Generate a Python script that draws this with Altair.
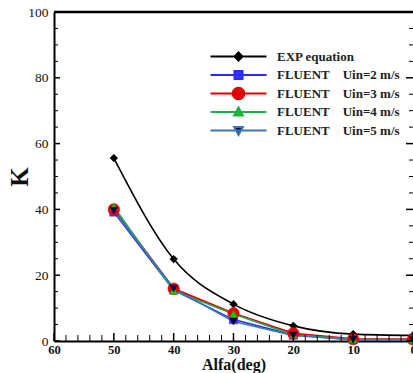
import altair as alt
import pandas as pd

# ---- data ----
alfa = [50, 40, 30, 20, 10, 0]
k_exp = [55.6, 24.9, 11.2, 4.6, 2.1, 1.7]
k_u2 = [39.2, 15.5, 6.5, 1.8, 0.4, 0.4]
k_u3 = [40.0, 15.9, 8.4, 2.3, 0.6, 0.5]
k_u4 = [40.8, 15.3, 8.2, 1.9, 0.5, 0.4]
k_u5 = [39.6, 16.0, 5.9, 1.7, 0.4, 0.3]

NB = "\u00a0"
series_names = [
    "EXP equation",
    f"FLUENT{NB*4}Uin=2 m/s",
    f"FLUENT{NB*4}Uin=3 m/s",
    f"FLUENT{NB*4}Uin=4 m/s",
    f"FLUENT{NB*4}Uin=5 m/s",
]
series_values = [k_exp, k_u2, k_u3, k_u4, k_u5]
line_colors = ["#000000", "#2a2aff", "#e00000", "#1fae4a", "#3b78b5"]
marker_fills = ["#000000", "#3535ff", "#e80000", "#00cc00", "#00004d"]
marker_shapes = ["diamond", "square", "circle", "triangle-up", "triangle-down"]
marker_sizes = [60, 70, 135, 60, 60]
interp = ["monotone", "linear", "linear", "linear", "linear"]

PAD = "M0,-1.5M0,1.5"
legend_paths = [
    PAD + "M-7,0H7M0,-1L1,0L0,1L-1,0Z",
    PAD + "M-7,0H7M-1,-1H1V1H-1Z",
    PAD + "M-7,0H7M-1.45,0A1.45,1.45,0,1,1,1.45,0A1.45,1.45,0,1,1,-1.45,0Z",
    PAD + "M-7,0H7M0,-1.1L1.1,0.9L-1.1,0.9Z",
    PAD + "M-7,0H7M0,1.1L1.1,-0.9L-1.1,-0.9Z",
]

x_major = [60, 50, 40, 30, 20, 10, 0]
x_minor = [v for v in range(0, 61, 2) if v % 10 != 0]
y_major = [0, 20, 40, 60, 80, 100]
y_minor = [v for v in range(0, 101, 5) if v % 20 != 0]

W, H = 359, 329
FONT = "Liberation Serif"

rows = []
for name, vals in zip(series_names, series_values):
    for a, k in zip(alfa, vals):
        rows.append({"series": name, "alfa": a, "k": k})
df = pd.DataFrame(rows)

xscale = alt.Scale(domain=[0, 60], reverse=True, nice=False, zero=False)
yscale = alt.Scale(domain=[0, 100], nice=False)

x_axis = alt.Axis(
    values=x_major, title="Alfa(deg)", ticks=False, tickSize=0, grid=False,
    labelFont=FONT, labelFontSize=12.5, labelFontWeight="bold", labelColor="#111",
    labelPadding=2, labelFlush=False, labelOverlap=False, format="d",
    domainColor="#000", domainWidth=2,
    titleFont=FONT, titleFontSize=16, titleFontWeight="bold", titleColor="#111",
    titleY=28, titleBaseline="alphabetic",
)
y_axis = alt.Axis(
    values=y_major, title="K", ticks=False, tickSize=0, grid=False,
    labelFont=FONT, labelFontSize=13.5, labelFontWeight="normal", labelColor="#111",
    labelPadding=6, labelFlush=False, labelOverlap=False, format="d",
    domainColor="#000", domainWidth=2,
    titleFont=FONT, titleFontSize=25, titleFontWeight="bold", titleColor="#111",
    titleX=-35, titleBaseline="middle", titleAlign="center",
)

layers = []
base = alt.Chart(df)
for i, name in enumerate(series_names):
    sub = base.transform_filter(alt.datum.series == name)
    line = sub.mark_line(
        color=line_colors[i], strokeWidth=1.6 if i != 2 else 2, interpolate=interp[i]
    ).encode(
        x=alt.X("alfa:Q", scale=xscale, axis=x_axis),
        y=alt.Y("k:Q", scale=yscale, axis=y_axis),
    )
    layers.append(line)
for i, name in enumerate(series_names):
    sub = base.transform_filter(alt.datum.series == name)
    pts = sub.mark_point(
        filled=True, shape=marker_shapes[i], size=marker_sizes[i],
        fill=marker_fills[i], stroke=marker_fills[i], strokeWidth=0.5, opacity=1,
    ).encode(
        x=alt.X("alfa:Q", scale=xscale, axis=x_axis),
        y=alt.Y("k:Q", scale=yscale, axis=y_axis),
    )
    layers.append(pts)

# tick marks (inward)
def xticks(vals, length, sw):
    return alt.Chart(pd.DataFrame({"alfa": vals})).mark_rule(color="#000", strokeWidth=sw).encode(
        x=alt.X("alfa:Q", scale=xscale, axis=x_axis), y=alt.value(H), y2=alt.value(H - length)
    )

def yticks(vals, x0, x1, sw):
    return alt.Chart(pd.DataFrame({"k": vals})).mark_rule(color="#000", strokeWidth=sw).encode(
        y=alt.Y("k:Q", scale=yscale, axis=y_axis), x=alt.value(x0), x2=alt.value(x1)
    )

layers += [
    xticks(x_major, 8, 1.5),
    xticks(x_minor, 6, 1),
    yticks(y_major, 0, 6, 1.5),
    yticks(y_minor, 0, 4, 1),
    yticks(y_major, W, W - 7, 1.5),
    yticks(y_minor, W, W - 4, 1),
]

top_border = alt.Chart(pd.DataFrame({"v": [0]})).mark_rule(color="#000", strokeWidth=2.5).encode(
    x=alt.value(0), x2=alt.value(W), y=alt.value(0)
)
layers.append(top_border)

leg = alt.Legend(
    orient="none", legendX=178, legendY=38, title=None,
    labelFont=FONT, labelFontSize=13, labelFontWeight="bold", labelColor="#222",
    labelOffset=32, symbolSize=64, symbolStrokeWidth=2, rowPadding=-2.5,
    padding=0, labelLimit=300,
)
legend_layer = alt.Chart(pd.DataFrame({"series": series_names})).mark_point(
    filled=True, clip=True, size=64, opacity=1, strokeWidth=2
).encode(
    x=alt.value(-500), y=alt.value(-500),
    shape=alt.Shape("series:N", scale=alt.Scale(domain=series_names, range=legend_paths), legend=leg),
    fill=alt.Fill("series:N", scale=alt.Scale(domain=series_names, range=marker_fills), legend=leg),
    stroke=alt.Stroke("series:N", scale=alt.Scale(domain=series_names, range=line_colors), legend=leg),
)
layers.append(legend_layer)

chart = alt.layer(*layers).properties(
    width=W, height=H,
    autosize=alt.AutoSizeParams(type="none"),
    padding={"left": 54, "top": 12, "right": 0, "bottom": 32},
    background="white",
).configure_view(stroke=None)

chart.save("out.html", embed_options={"renderer": "svg", "actions": False})
